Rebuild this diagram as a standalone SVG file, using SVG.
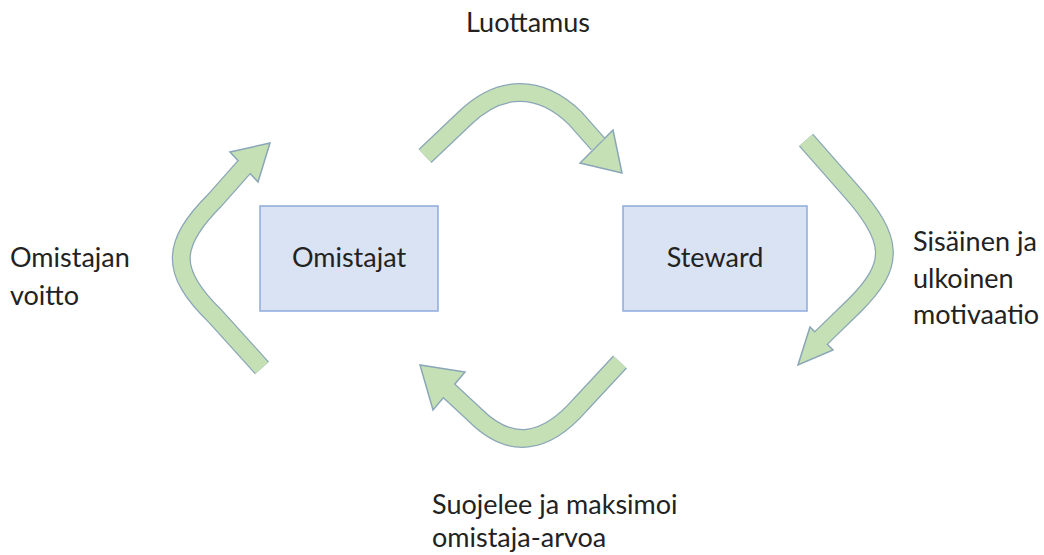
<svg xmlns="http://www.w3.org/2000/svg" width="1044" height="555" viewBox="0 0 1044 555">
<style>
.box{fill:#dae3f3;stroke:#8faadc;stroke-width:1.5}
.lbl{font-family:Lato,"Liberation Sans",sans-serif;font-size:27px;fill:#222}
.mid{text-anchor:middle}
.so{fill:none;stroke:#8aa6b8;stroke-width:19;stroke-linejoin:round}
.sf{fill:none;stroke:#c5e0b4;stroke-width:16.5;stroke-linejoin:round}
.hd{fill:#c5e0b4;stroke:#8aa6b8;stroke-width:1.5;stroke-linejoin:miter}
</style>
<rect width="1044" height="555" fill="#fff"/>
<g id="connectors">
  <g id="arrow-top">
    <path class="so" d="M425,156 L465,118 C500,84 540,84 575,118 L598,144"/>
    <polygon class="hd" points="613,130 622,173 580,163"/>
    <path class="sf" d="M425,156 L465,118 C500,84 540,84 575,118 L598,144"/>
  </g>
  <g id="arrow-right">
    <path class="so" d="M806,140 L850,190 C895,240 895,265 855,305 L819,340"/>
    <polygon class="hd" points="810,327 833,350 798,365"/>
    <path class="sf" d="M806,140 L850,190 C895,240 895,265 855,305 L819,340"/>
  </g>
  <g id="arrow-bottom">
    <path class="so" d="M620,362 L580,405 C545,445 510,450 475,415 L447,389"/>
    <polygon class="hd" points="465,372 433,410 420,365"/>
    <path class="sf" d="M620,362 L580,405 C545,445 510,450 475,415 L447,389"/>
  </g>
  <g id="arrow-left">
    <path class="so" d="M262,368 L215,316 C170,272 170,245 215,200 L246,165"/>
    <polygon class="hd" points="230,152 258,182 270,143"/>
    <path class="sf" d="M262,368 L215,316 C170,272 170,245 215,200 L246,165"/>
  </g>
</g>
<g id="node-omistajat">
  <rect class="box" x="260" y="206" width="178" height="105"/>
  <text class="lbl mid" x="349" y="267">Omistajat</text>
</g>
<g id="node-steward">
  <rect class="box" x="623" y="206" width="184" height="105"/>
  <text class="lbl mid" x="715" y="267">Steward</text>
</g>
<g id="labels">
  <text class="lbl mid" x="528" y="32">Luottamus</text>
  <text class="lbl" x="10" y="267">Omistajan</text>
  <text class="lbl" x="10" y="305">voitto</text>
  <text class="lbl" x="913" y="251">Sisäinen ja</text>
  <text class="lbl" x="913" y="288">ulkoinen</text>
  <text class="lbl" x="913" y="324">motivaatio</text>
  <text class="lbl" x="432" y="514">Suojelee ja maksimoi</text>
  <text class="lbl" x="432" y="547">omistaja-arvoa</text>
</g>
</svg>
